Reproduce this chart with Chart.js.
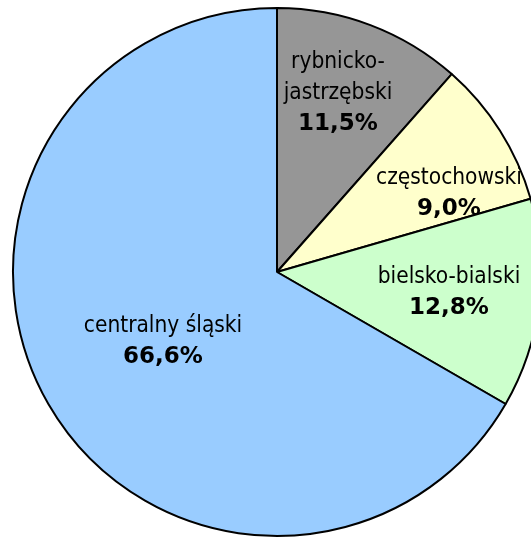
<!DOCTYPE html>
<html>
<head>
<meta charset="utf-8">
<script src="https://cdn.jsdelivr.net/npm/chart.js@4.4.0/dist/chart.umd.min.js"></script>
<style>
  html, body { margin: 0; padding: 0; background: #fff; overflow: hidden; }
  #wrap { width: 554px; height: 538px; }
</style>
</head>
<body>
<div id="wrap"><canvas id="myChart" width="554" height="538"></canvas></div>
<script>
var regions = ['rybnicko-jastrzębski', 'częstochowski', 'bielsko-bialski', 'centralny śląski'];
var labelLines = [['rybnicko-', 'jastrzębski'], ['częstochowski'], ['bielsko-bialski'], ['centralny śląski']];
var shares = [11.5, 9.0, 12.8, 66.6];
var colors = ['#969696', '#FFFFCC', '#CCFFCC', '#99CCFF'];

// where each label sits, relative to the pie centre (px)
var labelOffsets = [[61, -179], [172, -78], [172, 21], [-114, 70]];

var sliceLabels = {
    id: 'sliceLabels',
    afterDatasetsDraw: function (chart) {
        var ctx = chart.ctx;
        var arcs = chart.getDatasetMeta(0).data;
        ctx.save();
        ctx.fillStyle = '#000';
        ctx.textAlign = 'center';
        ctx.textBaseline = 'middle';
        arcs.forEach(function (arc, i) {
            var lines = labelLines[i];
            var cx = arc.x + labelOffsets[i][0];
            var cy = arc.y + labelOffsets[i][1];
            var lh = 31;
            var total = lines.length + 1;
            var y0 = cy - (total - 1) * lh / 2;
            ctx.font = '22.5px "DejaVu Sans Condensed"';
            lines.forEach(function (t, k) {
                ctx.fillText(t, cx, y0 + k * lh);
            });
            ctx.font = 'bold 23px "DejaVu Sans"';
            ctx.fillText(shares[i].toFixed(1).replace('.', ',') + '%', cx, y0 + lines.length * lh);
        });
        ctx.restore();
    }
};

var ctx = document.getElementById('myChart').getContext('2d');
var myPieChart = new Chart(ctx, {
    type: 'pie',
    data: {
        labels: regions,
        datasets: [{
            data: shares,
            backgroundColor: colors,
            borderColor: '#000',
            borderWidth: 2
        }]
    },
    options: {
        responsive: false,
        animation: false,
        radius: 264,
        layout: { padding: { top: 6, bottom: 0, left: 0, right: 0 } },
        plugins: {
            legend: { display: false },
            tooltip: { enabled: false }
        }
    },
    plugins: [sliceLabels]
});
</script>
</body>
</html>
